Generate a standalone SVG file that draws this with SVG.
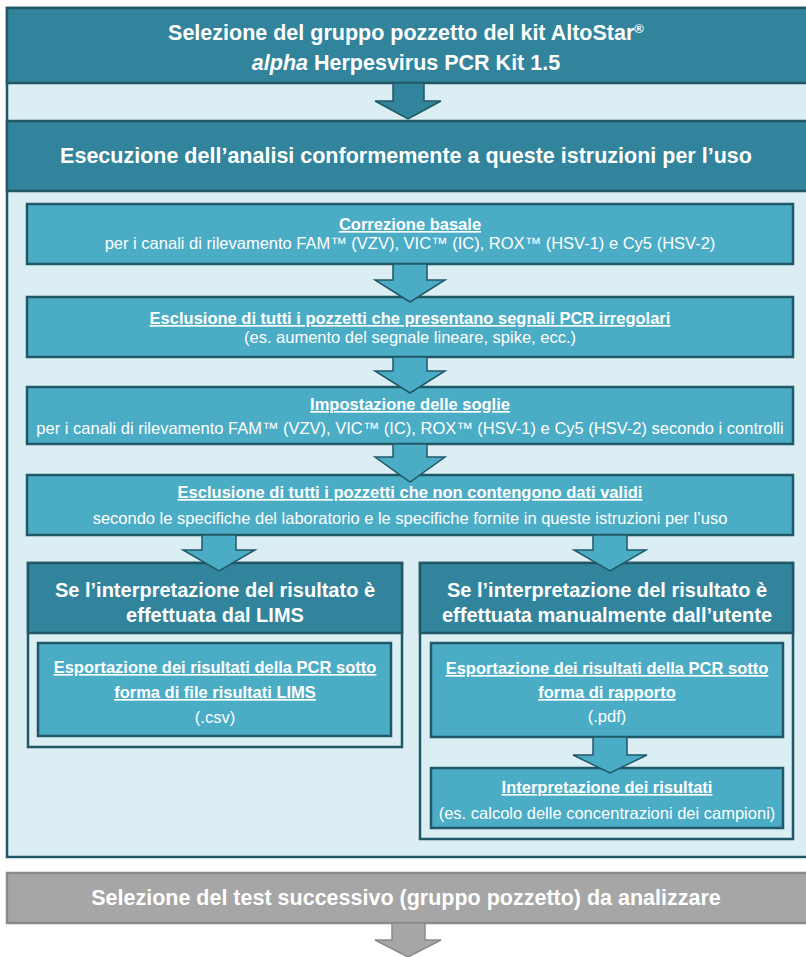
<svg xmlns="http://www.w3.org/2000/svg" width="806" height="957" viewBox="0 0 806 957">
<style>
.cont{fill:#DAEEF3;stroke:#205867;stroke-width:2.5}
.hdr{fill:#31849B;stroke:#205867;stroke-width:2.5}
.box{fill:#4BACC6;stroke:#205867;stroke-width:2.5}
.grey{fill:#A6A6A6;stroke:#8A8A8A;stroke-width:2.5}
.arr{fill:#4BACC6;stroke:#205867;stroke-width:1.5;stroke-linejoin:miter}
.arrd{fill:#31849B;stroke:#205867;stroke-width:1.5}
.arrg{fill:#A6A6A6;stroke:#8A8A8A;stroke-width:1.5}
text{font-family:"Liberation Sans",Arial,sans-serif;fill:#fff;text-anchor:middle}
.h{font-size:21.5px;font-weight:bold}
.bh{font-size:20px;font-weight:bold}
.b{font-size:16.5px;font-weight:bold;text-decoration:underline}
.r{font-size:16.5px}
</style>
<rect class="cont" x="7" y="8" width="806" height="849"/>
<g id="n1">
<rect class="hdr" x="7" y="8" width="806" height="75"/>
<text class="h" x="406" y="40">Selezione del gruppo pozzetto del kit AltoStar<tspan font-size="13" baseline-shift="super">®</tspan></text>
<text class="h" x="406" y="70"><tspan font-style="italic">alpha</tspan> Herpesvirus PCR Kit 1.5</text>
</g>
<g id="n2">
<rect class="hdr" x="7" y="121" width="806" height="70"/>
<text class="h" x="406" y="163">Esecuzione dell’analisi conformemente a queste istruzioni per l’uso</text>
</g>
<g id="n3">
<rect class="box" x="27" y="204" width="766" height="60"/>
<text class="b" x="410" y="230">Correzione basale</text>
<text class="r" x="410" y="249">per i canali di rilevamento  FAM™ (VZV), VIC™ (IC), ROX™ (HSV-1) e Cy5 (HSV-2)</text>
</g>
<g id="n4">
<rect class="box" x="27" y="297" width="766" height="60"/>
<text class="b" x="410" y="324">Esclusione di tutti i pozzetti che presentano segnali PCR irregolari</text>
<text class="r" x="410" y="343">(es. aumento del segnale lineare, spike, ecc.)</text>
</g>
<g id="n5">
<rect class="box" x="27" y="387" width="766" height="57"/>
<text class="b" x="410" y="410">Impostazione delle soglie</text>
<text class="r" x="410" y="434">per i canali di rilevamento FAM™ (VZV), VIC™ (IC), ROX™ (HSV-1) e Cy5 (HSV-2) secondo i controlli</text>
</g>
<g id="n6">
<rect class="box" x="27" y="475" width="766" height="60"/>
<text class="b" x="410" y="498">Esclusione di tutti i pozzetti che non contengono dati validi</text>
<text class="r" x="410" y="524">secondo le specifiche del laboratorio e le specifiche fornite in queste istruzioni per l’uso</text>
</g>
<g id="n7">
<rect class="cont" x="28" y="563" width="374" height="184"/>
<rect class="hdr" x="28" y="563" width="374" height="70"/>
<text class="bh" x="215" y="597">Se l’interpretazione del risultato è</text>
<text class="bh" x="215" y="622">effettuata dal LIMS</text>
</g>
<g id="n8">
<rect class="box" x="38" y="643" width="353" height="93"/>
<text class="b" x="215" y="673">Esportazione dei risultati della PCR sotto</text>
<text class="b" x="215" y="698">forma di file risultati LIMS</text>
<text class="r" x="215" y="723">(.csv)</text>
</g>
<g id="n9">
<rect class="cont" x="420" y="563" width="373" height="276"/>
<rect class="hdr" x="420" y="563" width="373" height="70"/>
<text class="bh" x="607" y="597">Se l’interpretazione del risultato è</text>
<text class="bh" x="607" y="622">effettuata manualmente dall’utente</text>
</g>
<g id="n10">
<rect class="box" x="431" y="643" width="352" height="94"/>
<text class="b" x="607" y="674">Esportazione dei risultati della PCR sotto</text>
<text class="b" x="607" y="698">forma di rapporto</text>
<text class="r" x="607" y="722">(.pdf)</text>
</g>
<g id="n11">
<rect class="box" x="431" y="768" width="352" height="60"/>
<text class="b" x="607" y="793">Interpretazione dei risultati</text>
<text class="r" x="607" y="819">(es. calcolo delle concentrazioni dei campioni)</text>
</g>
<g id="n12">
<rect class="grey" x="7" y="873" width="806" height="50"/>
<text class="h" x="406" y="905">Selezione del test successivo (gruppo pozzetto) da analizzare</text>
</g>
<g id="connectors">
<polygon class="arrd" points="393,83 424,83 424,101 441,101 408,119 375,101 393,101"/>
<polygon class="arr" points="393,264 427,264 427,280 445,280 410,302 375,280 393,280"/>
<polygon class="arr" points="393,357 427,357 427,371 445,371 410,393 375,371 393,371"/>
<polygon class="arr" points="393,444 427,444 427,457 445,457 410,482 375,457 393,457"/>
<polygon class="arr" points="202,535 236,535 236,550 255,550 219,571 183,550 202,550"/>
<polygon class="arr" points="593,535 627,535 627,550 646,550 610,571 574,550 593,550"/>
<polygon class="arr" points="593,737 627,737 627,755 647,755 610,773 573,755 593,755"/>
<polygon class="arrg" points="392,923 425,923 425,940 441,940 408,957 375,940 392,940"/>
</g>
</svg>
